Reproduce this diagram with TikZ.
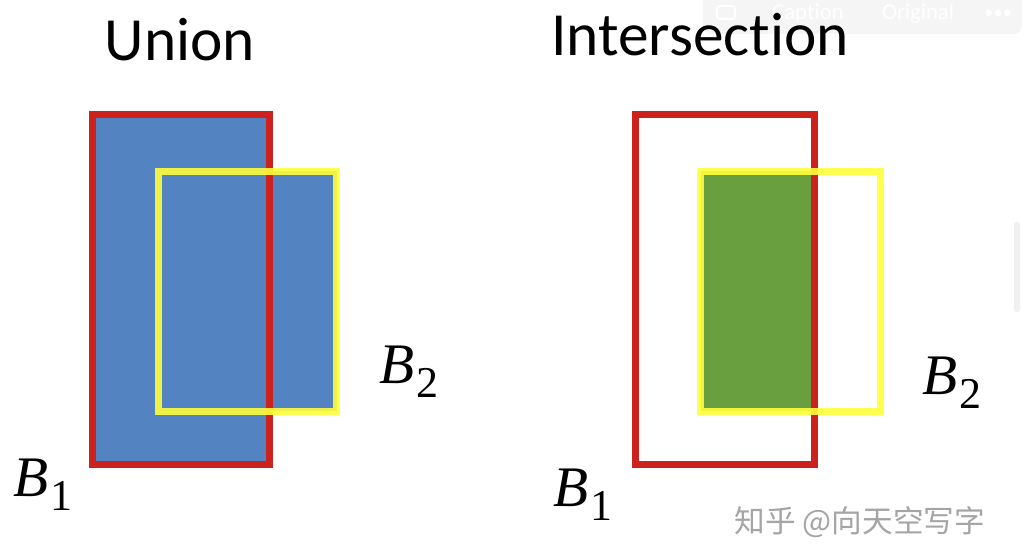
\documentclass[tikz,border=0pt]{standalone}
\usepackage{fontspec}
\setmainfont{Carlito}[Ligatures=NoCommon]
\newfontfamily\cjk{Noto Sans CJK SC}
\newfontfamily\lser{Liberation Serif}
\definecolor{boxred}{RGB}{204,34,30}
\definecolor{boxyellow}{RGB}{255,255,58}
\definecolor{unionblue}{RGB}{84,131,194}
\definecolor{intergreen}{RGB}{106,159,63}
\definecolor{wmgray}{RGB}{165,165,165}
\newcommand{\bname}[1]{{\lser\fontsize{43}{48}\selectfont\itshape B\kern1.5pt\raisebox{-10pt}{\upshape\fontsize{33}{36}\selectfont #1}}}
\tikzset{
  redbox/.style={draw=boxred, line width=5.2pt},
  yellowbox/.style={draw=boxyellow, line width=5.2pt, draw opacity=0.9},
  title/.style={font=\fontsize{46}{52}\selectfont, anchor=base, inner sep=0pt},
  blabel/.style={anchor=base west, inner sep=0pt},
  uitext/.style={font=\fontsize{17}{20}\selectfont, text=white, inner sep=0pt},
}
\begin{document}
\begin{tikzpicture}[x=0.75pt, y=-0.75pt]
\useasboundingbox[fill=white] (0,0) rectangle (1024,548);

% overlay bar (screenshot UI)
\fill[black!4, rounded corners=6pt] (703,-10) rectangle (1022,34);
\node[uitext] (cap) at (808,14) {Caption};
\node[uitext] (orig) at (918,14) {Original};
\node[uitext, font=\fontsize{14}{16}\selectfont] (dots) at (998,14) {\textbullet\textbullet\textbullet};
\draw[white, line width=1.2pt, rounded corners=2pt] (717,6) rectangle (735,19);
\fill[black!6, rounded corners=2pt] (1014,222) rectangle (1020,312);

% titles
\node[title] (union) at (180,61) {Union};
\node[title] (inter) at (700,56) {Intersection};

% Union
\fill[unionblue] (92.5,114.5) rectangle (269.5,464.5);
\fill[unionblue] (158.5,171.5) rectangle (336.5,411.5);
\draw[redbox] (92.5,114.5) rectangle (269.5,464.5);
\draw[yellowbox] (158.5,171.5) rectangle (336.5,411.5);
\node[blabel] (ub1) at (13,497) {\bname{1}};
\node[blabel] (ub2) at (379,384) {\bname{2}};

% Intersection
\fill[intergreen] (700.5,171.5) rectangle (814.5,411.5);
\draw[redbox] (635.5,114.5) rectangle (814.5,464.5);
\draw[yellowbox] (700.5,171.5) rectangle (880.5,411.5);
\node[blabel] (ib1) at (553,507) {\bname{1}};
\node[blabel] (ib2) at (922,395) {\bname{2}};

% watermark
\node[font=\cjk\fontsize{23}{26}\selectfont, text=wmgray, inner sep=0pt] (wm) at (860,522) {知乎 @向天空写字};
\end{tikzpicture}
\end{document}
